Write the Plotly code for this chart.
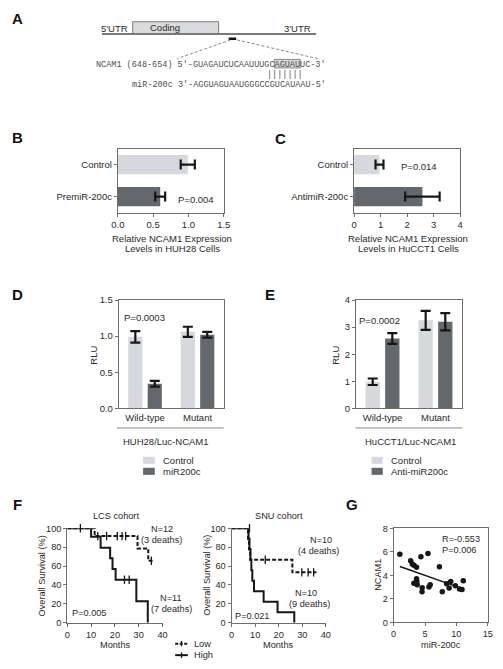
import plotly.graph_objects as go

# ---------------- data ----------------
# Panel A (sequence text)
ncam1_line = "NCAM1 (648-654) 5'-GUAGAUCUCAAUUUGCAGUAUUC-3'"
mir_line = "miR-200c 3'-AGGUAGUAAUGGGCCGUCAUAAU-5'"
pairing = "|||||||"

# Panel B
b_categories = ["Control", "PremiR-200c"]
b_values = [0.99, 0.60]
b_errors = [0.10, 0.07]

# Panel C
c_categories = ["Control", "AntimiR-200c"]
c_values = [0.96, 2.58]
c_errors = [0.15, 0.65]

# Panel D
d_groups = ["Wild-type", "Mutant"]
d_control = [0.99, 1.06]
d_control_err = [0.08, 0.07]
d_mir = [0.34, 1.02]
d_mir_err = [0.04, 0.04]

# Panel E
e_groups = ["Wild-type", "Mutant"]
e_control = [0.98, 3.25]
e_control_err = [0.12, 0.35]
e_anti = [2.58, 3.20]
e_anti_err = [0.20, 0.32]

# Panel F - LCS cohort (Kaplan-Meier steps)
lcs_low_t = [0, 11.5, 29.5, 34.0, 35.8]
lcs_low_s = [100, 91.7, 78.6, 65.5, 65.5]
lcs_low_cens_t = [5.5, 12.8, 16.5, 21.0, 23.0, 24.5, 35.3]
lcs_low_cens_s = [100, 91.7, 91.7, 91.7, 91.7, 91.7, 65.5]
lcs_high_t = [0, 10.0, 14.0, 18.0, 19.0, 20.3, 29.0, 33.8]
lcs_high_s = [100, 90.9, 79.5, 68.2, 56.8, 45.5, 22.7, 0]
lcs_high_cens_t = [24.0, 26.0]
lcs_high_cens_s = [45.5, 45.5]

# Panel F - SNU cohort
snu_low_t = [0, 7.0, 7.4, 7.9, 25.8, 36.0]
snu_low_s = [100, 88.9, 77.8, 66.7, 53.3, 53.3]
snu_low_cens_t = [7.6, 14.3, 29.8, 32.5, 34.8]
snu_low_cens_s = [100, 66.7, 53.3, 53.3, 53.3]
snu_high_t = [0, 7.2, 7.6, 8.0, 8.4, 8.8, 9.5, 13.6, 19.5, 26.6]
snu_high_s = [100, 88.9, 77.8, 66.7, 55.6, 44.4, 33.3, 22.2, 11.1, 0]

# Panel G
g_mir200c = [0.99, 2.71, 2.97, 3.23, 3.65, 4.35, 5.47, 7.30, 3.23, 3.65, 3.70, 3.75,
             4.55, 4.53, 5.63, 5.83, 7.76, 8.44, 8.85, 9.10, 9.84, 10.5, 10.9, 11.1]
g_ncam1 = [5.79, 5.24, 4.96, 4.85, 4.68, 5.57, 5.85, 4.74, 3.32, 3.70, 3.48, 3.20,
           2.95, 2.60, 3.00, 3.20, 2.60, 3.29, 2.92, 3.48, 3.12, 2.84, 2.79, 3.54]
g_fit_x = [1.0, 11.1]
g_fit_y = [4.75, 2.85]

# ---------------- style ----------------
W, H = 503, 669
def X(px): return px / W
def Y(py): return 1 - py / H

FONT = "Liberation Sans, Arial, sans-serif"
MONO = "Liberation Mono, Courier New, monospace"
LIGHT = "#d5d8dc"
DARK = "#62686c"
AX = "#6e6e6e"
TXT = "#2a2a2a"
INK = "#161616"
FS = 9.5

fig = go.Figure()

err_style = dict(type="data", color=INK, thickness=2.2, width=5)

# B
fig.add_trace(go.Bar(y=b_categories, x=b_values, orientation="h", width=0.6,
                     marker=dict(color=[LIGHT, DARK], line=dict(width=0)),
                     error_x=dict(array=b_errors, **err_style),
                     xaxis="x", yaxis="y"))
# C
fig.add_trace(go.Bar(y=c_categories, x=c_values, orientation="h", width=0.6,
                     marker=dict(color=[LIGHT, DARK], line=dict(width=0)),
                     error_x=dict(array=c_errors, **err_style),
                     xaxis="x2", yaxis="y2"))
# D
fig.add_trace(go.Bar(x=d_groups, y=d_control, width=0.27, offset=-0.32,
                     marker=dict(color=LIGHT, line=dict(width=0)),
                     error_y=dict(array=d_control_err, **err_style), xaxis="x3", yaxis="y3"))
fig.add_trace(go.Bar(x=d_groups, y=d_mir, width=0.27, offset=0.05,
                     marker=dict(color=DARK, line=dict(width=0)),
                     error_y=dict(array=d_mir_err, **err_style), xaxis="x3", yaxis="y3"))
# E
fig.add_trace(go.Bar(x=e_groups, y=e_control, width=0.27, offset=-0.32,
                     marker=dict(color=LIGHT, line=dict(width=0)),
                     error_y=dict(array=e_control_err, **err_style), xaxis="x4", yaxis="y4"))
fig.add_trace(go.Bar(x=e_groups, y=e_anti, width=0.27, offset=0.05,
                     marker=dict(color=DARK, line=dict(width=0)),
                     error_y=dict(array=e_anti_err, **err_style), xaxis="x4", yaxis="y4"))

# F
dash_line = dict(shape="hv", dash="4px,2px", width=2, color=INK)
solid_line = dict(shape="hv", width=2, color=INK)
cens = dict(symbol="line-ns-open", size=6, color=INK, line=dict(width=1.3, color=INK))
for t, s, ln, ax in [(lcs_low_t, lcs_low_s, dash_line, ("x5", "y5")),
                     (lcs_high_t, lcs_high_s, solid_line, ("x5", "y5")),
                     (snu_low_t, snu_low_s, dash_line, ("x6", "y6")),
                     (snu_high_t, snu_high_s, solid_line, ("x6", "y6"))]:
    fig.add_trace(go.Scatter(x=t, y=s, mode="lines", line=ln, cliponaxis=False,
                             xaxis=ax[0], yaxis=ax[1]))
for t, s, ax in [(lcs_low_cens_t, lcs_low_cens_s, ("x5", "y5")),
                 (lcs_high_cens_t, lcs_high_cens_s, ("x5", "y5")),
                 (snu_low_cens_t, snu_low_cens_s, ("x6", "y6"))]:
    fig.add_trace(go.Scatter(x=t, y=s, mode="markers", marker=cens, cliponaxis=False,
                             xaxis=ax[0], yaxis=ax[1]))

# G
fig.add_trace(go.Scatter(x=g_mir200c, y=g_ncam1, mode="markers",
                         marker=dict(size=5.5, color=INK), xaxis="x7", yaxis="y7"))
fig.add_trace(go.Scatter(x=g_fit_x, y=g_fit_y, mode="lines",
                         line=dict(width=1.5, color=INK), xaxis="x7", yaxis="y7"))

# ---------------- axes ----------------
def ax_common(mirror=True, fs=FS):
    return dict(showline=True, linecolor=AX, linewidth=1, mirror=mirror, ticks="outside",
                ticklen=3, tickcolor=AX, tickwidth=1, showgrid=False, zeroline=False,
                tickfont=dict(family=FONT, size=fs, color=TXT), fixedrange=True)

def dom(a, b, vertical=False):
    if vertical:
        return [Y(b), Y(a)]
    return [X(a), X(b)]

FF = 9.2
layout_axes = {}
# B
layout_axes["xaxis"] = dict(ax_common(), domain=dom(114, 223), range=[0, 1.5], dtick=0.5,
                            tickformat=".1f", anchor="y")
layout_axes["yaxis"] = dict(ax_common(), domain=dom(145, 210, True), autorange="reversed",
                            anchor="x")
# C
layout_axes["xaxis2"] = dict(ax_common(), domain=dom(357, 466), range=[0, 4], dtick=1, anchor="y2")
layout_axes["yaxis2"] = dict(ax_common(), domain=dom(145, 210, True), autorange="reversed",
                             anchor="x2")
# D
layout_axes["xaxis3"] = dict(ax_common(), domain=dom(115, 223), ticks="", anchor="y3",
                             range=[-0.5, 1.5])
layout_axes["yaxis3"] = dict(ax_common(), domain=dom(299, 409, True), range=[0, 1.5], dtick=0.5,
                             tickformat=".1f", anchor="x3")
# E
layout_axes["xaxis4"] = dict(ax_common(), domain=dom(359, 468), ticks="", anchor="y4",
                             range=[-0.5, 1.5])
layout_axes["yaxis4"] = dict(ax_common(), domain=dom(299, 409, True), range=[0, 4], dtick=1,
                             anchor="x4")
# F
layout_axes["xaxis5"] = dict(ax_common(False, FF), domain=dom(62, 160), range=[0, 40], dtick=10, anchor="y5")
layout_axes["yaxis5"] = dict(ax_common(False, FF), domain=dom(531, 627, True), range=[0, 100], dtick=20, anchor="x5")
layout_axes["xaxis6"] = dict(ax_common(False, FF), domain=dom(231, 328), range=[0, 40], dtick=10, anchor="y6")
layout_axes["yaxis6"] = dict(ax_common(False, FF), domain=dom(531, 627, True), range=[0, 100], dtick=20, anchor="x6")
# G
layout_axes["xaxis7"] = dict(ax_common(True, FF), domain=dom(397.7, 494.5), range=[0, 15], dtick=5, anchor="y7")
layout_axes["yaxis7"] = dict(ax_common(True, FF), domain=dom(531, 626.7, True), range=[0, 8], dtick=2, anchor="x7")

# ---------------- annotations ----------------
ann = []
def txt(x, y, text, size=FS, xa="center", ya="middle", angle=0, bold=False, family=FONT, color=TXT):
    ann.append(dict(x=X(x), y=Y(y), xref="paper", yref="paper", text=(f"<b>{text}</b>" if bold else text),
                    showarrow=False, xanchor=xa, yanchor=ya, textangle=angle,
                    font=dict(family=family, size=size, color=color)))

# panel letters
for letter, x, y in [("A", 11, 13), ("B", 11, 134), ("C", 281.7, 135), ("D", 11, 293),
                     ("E", 270.5, 293), ("F", 10.5, 507), ("G", 355, 507)]:
    txt(x, y, letter, size=15, bold=True, color="#111")

# A
txt(111, 23, "5'UTR")
txt(163, 22, "Coding")
txt(299, 23, "3'UTR")
txt(90, 60, ncam1_line, size=8.5, xa="left", family=MONO, color="#505050")
txt(265, 70, pairing, size=8.5, xa="left", family=MONO, color="#505050")
txt(126.7, 80, mir_line, size=8.5, xa="left", family=MONO, color="#505050")

# B, C
txt(194.5, 197, "P=0.004")
txt(169.8, 236, "Relative NCAM1 Expression")
txt(169.8, 247, "Levels in HUH28 Cells")
txt(423.7, 163, "P=0.014")
txt(412.5, 236, "Relative NCAM1 Expression")
txt(412.5, 247, "Levels in HuCCT1 Cells")

# D, E
txt(141.5, 317, "P=0.0003")
txt(89, 355, "RLU", angle=-90)
txt(164, 443, "HUH28/Luc-NCAM1")
txt(158, 462, "Control", xa="left")
txt(158, 473, "miR200c", xa="left")
txt(383.5, 320, "P=0.0002")
txt(338, 355, "RLU", angle=-90)
txt(415, 443, "HuCCT1/Luc-NCAM1")
txt(393, 462, "Control", xa="left")
txt(393, 473, "Anti-miR200c", xa="left")

# F
txt(112, 519, "LCS cohort", size=FF)
txt(112, 650, "Months", size=FF)
txt(37, 579, "Overall Survival (%)", size=FF, angle=-90)
txt(159, 532, "N=12", size=FF)
txt(159, 543, "(3 deaths)", size=FF)
txt(168.5, 601.7, "N=11", size=FF)
txt(169, 613, "(7 deaths)", size=FF)
txt(85, 617, "P=0.005", size=FF)
txt(280, 519, "SNU cohort", size=FF)
txt(279, 650, "Months", size=FF)
txt(206, 579, "Overall Survival (%)", size=FF, angle=-90)
txt(322.5, 543.3, "N=10", size=FF)
txt(320.7, 554.3, "(4 deaths)", size=FF)
txt(308, 596.7, "N=10", size=FF)
txt(311, 607.7, "(9 deaths)", size=FF)
txt(253, 620, "P=0.021", size=FF)
txt(190, 648.3, "Low", size=FF, xa="left")
txt(190, 660, "High", size=FF, xa="left")

# G
txt(382, 578, "NCAM1", size=FF, angle=-90)
txt(446, 650, "miR-200c", size=FF)
txt(445, 542, "R=-0.553", size=FF, xa="left")
txt(445, 553, "P=0.006", size=FF, xa="left")

# ---------------- shapes ----------------
shapes = []
def pline(x0, y0, x1, y1, color=AX, width=1, dash=None):
    d = dict(type="line", xref="paper", yref="paper", x0=X(x0), y0=Y(y0), x1=X(x1), y1=Y(y1),
             line=dict(color=color, width=width))
    if dash:
        d["line"]["dash"] = dash
    shapes.append(d)
def prect(x0, y0, x1, y1, fill, color=None, width=0):
    shapes.append(dict(type="rect", xref="paper", yref="paper", x0=X(x0), y0=Y(y0), x1=X(x1), y1=Y(y1),
                       fillcolor=fill, line=dict(color=color or fill, width=width), layer="below"))

# A diagram
pline(97.7, 28.5, 318, 28.5, color="#7a7a7a", width=2)
prect(129.3, 16, 217.7, 28.5, "#d9dbde", color="#7a7a7a", width=1)
pline(228, 33.3, 235.7, 33.3, color="#111", width=2.5)
pline(230, 34.5, 175, 53.5, color="#888", width=1, dash="3px,2px")
pline(236.7, 34.5, 319.5, 53.5, color="#888", width=1, dash="3px,2px")
prect(275, 54.3, 301.7, 63, "#d6d6d6", color="#8a8a8a", width=1)

# D, E underline
pline(113, 429, 223, 429, color="#8a8a8a", width=1)
pline(358.3, 429, 468.3, 429, color="#8a8a8a", width=1)
# D, E legend swatches
prect(140, 458.3, 152, 465.5, LIGHT)
prect(140, 469.5, 152, 476.7, DARK)
prect(375, 458.3, 386.5, 465.5, LIGHT)
prect(375, 469.5, 386.5, 476.7, DARK)
# F legend samples
pline(173, 648.3, 186, 648.3, color=INK, width=2, dash="3px,1.5px")
pline(179.5, 645.5, 179.5, 651, color=INK, width=1.3)
pline(173, 660, 186, 660, color=INK, width=2)
pline(179.5, 657.2, 179.5, 662.8, color=INK, width=1.3)

fig.update_layout(width=W, height=H, margin=dict(l=0, r=0, t=0, b=0), autosize=False,
                  paper_bgcolor="white", plot_bgcolor="white", showlegend=False,
                  annotations=ann, shapes=shapes, font=dict(family=FONT, size=FS, color=TXT),
                  **layout_axes)

fig.write_html("out.html", config={"displayModeBar": False},
               post_script="document.body.style.margin='0';document.body.style.padding='0';"
                           "document.documentElement.style.overflow='hidden';")
